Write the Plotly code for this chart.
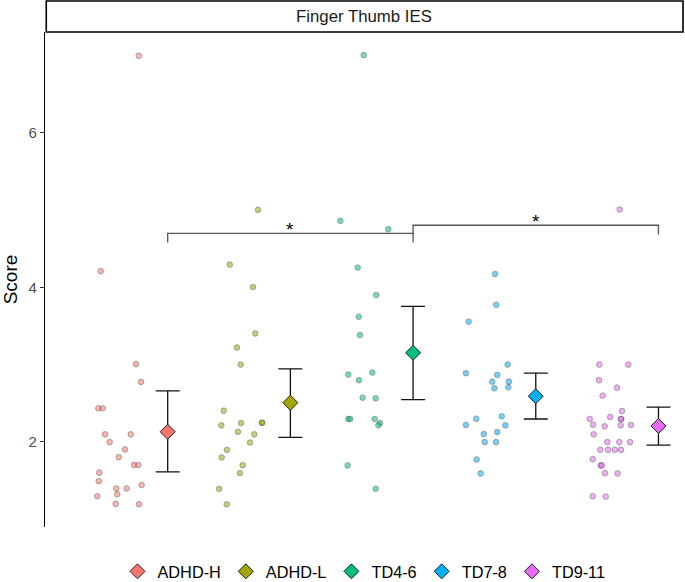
import plotly.graph_objects as go

groups = ["ADHD-H", "ADHD-L", "TD4-6", "TD7-8", "TD9-11"]
colors = ["#F8766D", "#A3A500", "#00BF7D", "#00B0F6", "#E76BF3"]

# individual scores per group
scores_adhd_h = [7.0, 4.21, 3.005, 2.775, 2.434, 2.434, 2.096, 2.096, 1.996, 1.90, 1.80,
                 1.70, 1.70, 1.60, 1.49, 1.395, 1.395, 1.44, 1.32, 1.295, 1.195, 1.19]
jitter_adhd_h = [0.164, -0.146, 0.142, 0.183, -0.165, -0.13, -0.111, 0.099, -0.073, 0.052, 0.001,
                 0.126, 0.161, -0.157, -0.162, -0.019, 0.066, 0.188, -0.011, -0.174, -0.024, 0.166]

scores_adhd_l = [5.005, 4.295, 4.005, 3.403, 3.221, 3.0, 2.403, 2.213, 2.243, 2.247, 2.247,
                 2.13, 2.096, 1.99, 1.896, 1.797, 1.697, 1.594, 1.39, 1.19]
jitter_adhd_l = [0.136, -0.094, 0.095, 0.114, -0.035, -0.005, -0.143, -0.163, -0.002, 0.168, 0.170,
                 -0.027, 0.106, 0.071, -0.117, -0.160, 0.011, -0.011, -0.181, -0.119]

scores_td46 = [7.009, 4.862, 4.753, 4.256, 3.901, 3.62, 3.382, 2.87, 2.896, 2.797, 2.571,
               2.563, 2.295, 2.295, 2.295, 2.243, 2.213, 1.694, 1.39]
jitter_td46 = [-0.002, -0.193, 0.198, -0.051, 0.100, -0.043, -0.033, -0.128, 0.068, -0.041, -0.011,
               0.095, -0.128, -0.112, 0.087, 0.130, 0.117, -0.133, 0.095]

scores_td78 = [4.174, 3.775, 3.555, 3.0, 2.888, 2.866, 2.779, 2.779, 2.693, 2.706, 2.33,
               2.299, 2.217, 2.213, 2.126, 2.1, 1.996, 1.996, 1.771, 1.59]
jitter_td78 = [0.068, 0.078, -0.147, 0.171, -0.169, 0.086, 0.045, 0.181, 0.063, 0.176, 0.123,
               -0.085, -0.169, 0.152, 0.086, -0.024, -0.016, 0.076, -0.082, -0.049]

scores_td911 = [5.009, 3.0, 3.0, 2.797, 2.701, 2.597, 2.399, 2.295, 2.321, 2.295, 2.295,
                2.221, 2.2, 2.213, 2.217, 2.096, 1.996, 1.996, 1.996, 1.896, 1.896, 1.896, 1.896,
                1.775, 1.694, 1.694, 1.594, 1.59, 1.295, 1.29]
jitter_td911 = [0.084, -0.082, 0.154, -0.085, 0.062, -0.055, 0.103, -0.160, 0.007, 0.097, 0.093,
                -0.133, -0.038, 0.092, 0.176, -0.128, -0.017, 0.081, 0.168, -0.074, -0.011, 0.043, 0.095,
                -0.136, -0.071, -0.062, -0.036, 0.067, -0.136, -0.030]

all_scores = [scores_adhd_h, scores_adhd_l, scores_td46, scores_td78, scores_td911]
all_jitter = [jitter_adhd_h, jitter_adhd_l, jitter_td46, jitter_td78, jitter_td911]

# group means and error-bar limits
means = [2.13, 2.506, 3.152, 2.59, 2.204]
upper = [2.66, 2.944, 3.753, 2.888, 2.45]
lower = [1.61, 2.057, 2.545, 2.295, 1.957]

# significance comparisons: (group a, group b, bracket height, tick bottom)
comparisons = [(0, 2, 4.70, 4.58), (2, 4, 4.805, 4.685)]
sig_labels = ["*", "*"]

mean_offset = 0.4

fig = go.Figure()

for i, g in enumerate(groups):
    xs = [i + 1 + j for j in all_jitter[i]]
    fig.add_trace(go.Scatter(
        x=xs, y=all_scores[i], mode="markers", showlegend=False,
        marker=dict(size=5.6, color=colors[i], opacity=0.55,
                    line=dict(color="#222222", width=0.7)),
        hoverinfo="skip"))

for i, g in enumerate(groups):
    fig.add_trace(go.Scatter(
        x=[i + 1 + mean_offset], y=[means[i]], mode="markers", name=g,
        marker=dict(symbol="diamond", size=11.5, color=colors[i],
                    line=dict(color="#222222", width=1)),
        error_y=dict(type="data", symmetric=False,
                     array=[upper[i] - means[i]], arrayminus=[means[i] - lower[i]],
                     color="#111111", thickness=1.3, width=12)))

for k, (a, b, h, lo) in enumerate(comparisons):
    xa = a + 1 + mean_offset
    xb = b + 1 + mean_offset
    fig.add_trace(go.Scatter(
        x=[xa, xa, xb, xb], y=[lo, h, h, lo], mode="lines", showlegend=False,
        line=dict(color="#555555", width=1.3), hoverinfo="skip"))
    fig.add_annotation(x=(xa + xb) / 2, y=h, text=sig_labels[k], showarrow=False,
                       yanchor="bottom", yshift=-9, font=dict(size=19, color="black"))

# facet strip
fig.add_shape(type="rect", xref="paper", yref="paper", x0=0.002, x1=1.0,
              y0=1.0, y1=1.0 + 31 / 495, line=dict(color="black", width=1.6),
              fillcolor="white", layer="above")
fig.add_annotation(xref="paper", yref="paper", x=0.5, y=1.0 + 16 / 495,
                   text="Finger Thumb IES", showarrow=False, yanchor="middle",
                   font=dict(size=16.8, color="#1A1A1A"))

fig.update_layout(
    width=685, height=582,
    margin=dict(l=45, r=2, t=32, b=55, autoexpand=False),
    plot_bgcolor="white", paper_bgcolor="white",
    font=dict(family="Liberation Sans, Arial, sans-serif"),
    showlegend=True,
    legend=dict(orientation="h", x=0.5, xanchor="center", y=-0.055, yanchor="top",
                font=dict(size=16.3, color="black"), itemsizing="trace"),
    xaxis=dict(range=[0.4, 5.6], visible=False, showgrid=False, zeroline=False),
    yaxis=dict(range=[0.896, 7.308], tickvals=[2, 4, 6], ticks="outside", ticklen=4,
               tickcolor="#333333", showline=True, linecolor="black", linewidth=1.3,
               showgrid=False, zeroline=False, automargin=False,
               tickfont=dict(size=15, color="#4D4D4D"),
               title=dict(text="Score", font=dict(size=19, color="black"), standoff=6)),
)

fig.write_html("out.html", config={"displayModeBar": False},
               post_script="document.body.style.margin='0';document.body.style.overflow='hidden';")
